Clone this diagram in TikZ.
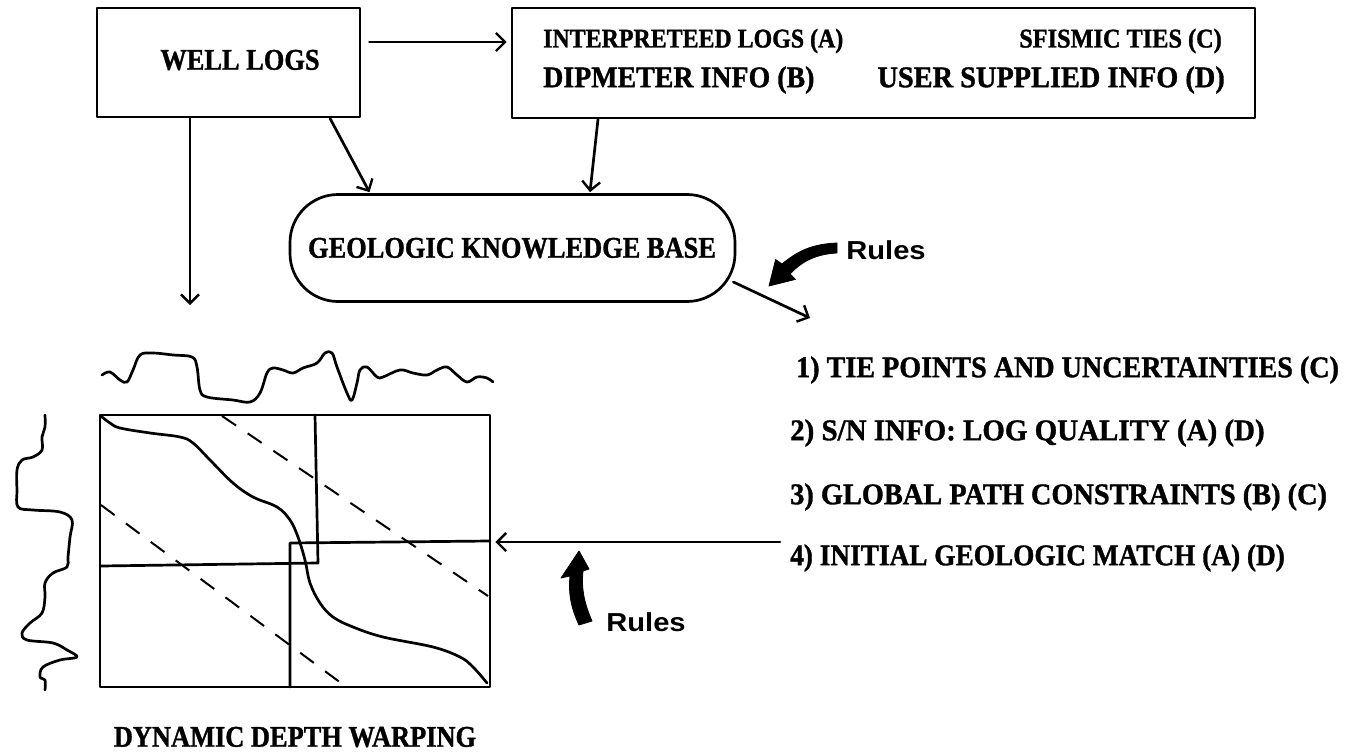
\documentclass[tikz,border=0pt]{standalone}
\usepackage{graphicx}
\usepackage{fontspec}
\setmainfont{Liberation Serif}[BoldFeatures={FakeBold=1.2}]
\newfontfamily\rulesfont{Liberation Sans}[FakeStretch=1.12]
\usetikzlibrary{arrows.meta,calc}
\newcommand{\hx}[2]{\scalebox{#1}[1]{#2}}
\tikzset{
  ln/.style={line width=2.7pt, line cap=round, line join=round},
  arr/.style={ln, -{Straight Barb[length=9pt,width=18pt,line width=2.4pt]}},
  big/.style={font=\fontsize{30}{36}\selectfont\bfseries, inner sep=0pt},
  small/.style={font=\fontsize{27}{32}\selectfont\bfseries, inner sep=0pt},
  rulestxt/.style={font=\rulesfont\fontsize{26}{30}\selectfont\bfseries, inner sep=0pt},
  fatarrow/.style={fill=black, draw=black, line width=0.8pt, line join=round},
  dsh/.style={line width=2pt, dash pattern=on 17pt off 14pt},
  wig/.style={line width=2.7pt, line cap=round, line join=round}
}
\begin{document}
\begin{tikzpicture}[x=1pt,y=-1pt]
\useasboundingbox (0,0) rectangle (1350,752);

% boxes
\node[ln, draw, minimum width=263pt, minimum height=109pt, inner sep=0pt] (wl) at (228.5,62.5) {};
\node[big] (wltxt) at (240,60) {\hx{0.88}{WELL LOGS}};

\node[ln, draw, minimum width=743pt, minimum height=110pt, inner sep=0pt] (info) at (883.5,63) {};
\node[small, anchor=west] (t1) at (543,41) {\hx{0.885}{INTERPRETEED LOGS (A)}};
\node[small, anchor=east] (t2) at (1222,41) {\hx{0.9}{SFISMIC TIES (C)}};
\node[big, anchor=west] (t3) at (543,80) {\hx{0.93}{DIPMETER INFO (B)}};
\node[big, anchor=east] (t4) at (1225,80) {\hx{0.945}{USER SUPPLIED INFO (D)}};

\node[ln, draw, rounded corners=48pt, minimum width=445pt, minimum height=107pt, inner sep=0pt] (kb) at (512.5,248) {};
\node[big] (kbtxt) at (512,248) {\hx{0.88}{GEOLOGIC KNOWLEDGE BASE}};

% connectors
\draw[arr] ($(wl.east)+(8,-20.5)$) -- ($(info.west)+(-4,-21)$);
\draw[arr] ($(wl.south)+(101.5,0)$) -- ($(kb.north)+(-143,-1)$);
\draw[arr] ($(info.south)+(-285.5,0)$) -- ($(kb.north)+(77.5,-1)$);
\coordinate (wlend) at (190,305);
\draw[arr] ($(wl.south)+(-38.5,0)$) -- (wlend);
\coordinate (kbout) at (810,318);
\draw[arr] ($(kb.east)+(-3,34)$) -- (kbout);

% Rules arrows
\node[rulestxt] (rules1) at (886,250) {Rules};
\fill[fatarrow] (775.6,259.6) -- (782,264) .. controls (800,249) and (815,244) .. (837,243)
  -- (837,253) .. controls (818,254) and (803,260) .. (790,274) -- (795.4,279.4) -- (769,286) -- cycle;
\node[rulestxt] (rules2) at (646,622) {Rules};
\fill[fatarrow] (579,551) -- (589,569) -- (583,571) .. controls (581,590) and (585,605) .. (592,621)
  -- (579,625) .. controls (572,610) and (568,595) .. (570,576) -- (561,578) -- cycle;

% list
\node[big, anchor=west] (l1) at (796,370) {\hx{0.937}{1) TIE POINTS AND UNCERTAINTIES (C)}};
\node[big, anchor=west] (l2) at (790,433) {\hx{0.965}{2) S/N INFO: LOG QUALITY (A) (D)}};
\node[big, anchor=west] (l3) at (790,497) {\hx{0.945}{3) GLOBAL PATH CONSTRAINTS (B) (C)}};
\node[big, anchor=west] (l4) at (790,558) {\hx{0.91}{4) INITIAL GEOLOGIC MATCH (A) (D)}};

% DTW matrix
\node[ln, draw, minimum width=390pt, minimum height=272pt, inner sep=0pt] (dtw) at (295,551) {};
\node[big] (dtwtxt) at (295,737) {\hx{0.88}{DYNAMIC DEPTH WARPING}};

\coordinate (listin) at (780,542);
\draw[arr] (listin) -- ($(dtw.east)+(4,-9)$);

\draw[ln] (315,415) -- (318,563) -- (101,566);
\draw[ln] (290,687) -- (290,543) -- (490,541);

\draw[dsh] (222,416) -- (488,596);
\draw[dsh] (101,505) -- (345,686);

\draw[wig] plot[smooth, tension=0.6] coordinates {
 (102,417) (110,423) (120,428) (150,433) (180,437) (193,443) (210,460)
 (233,483) (253,497) (277,507) (290,520) (298,537) (305,560) (310,583)
 (320,603) (333,617) (353,627) (383,637) (433,647) (460,657) (473,667) (487,683)};

% top log trace
\draw[wig] plot[smooth, tension=0.6] coordinates {
 (102,375) (110,372) (120,380) (127,382) (133,370) (140,355) (153,353)
 (173,355) (192,357) (197,367) (200,390) (207,397) (233,400) (250,402)
 (260,393) (267,373) (273,368) (283,370) (293,373) (303,368) (317,363)
 (325,353) (332,353) (337,367) (347,393) (352,400) (357,383) (360,370)
 (367,367) (377,377) (383,377) (400,370) (413,373) (427,375) (437,370)
 (447,367) (457,375) (467,382) (477,377) (487,378) (493,382)};

% left log trace
\draw[wig] plot[smooth, tension=0.6] coordinates {
 (45,415) (45,427) (42,437) (42,450) (33,457) (22,460) (17,470) (17,490)
 (18,507) (33,510) (60,512) (72,520) (70,537) (68,557) (67,567) (53,573)
 (45,583) (45,597) (42,613) (30,623) (22,633) (27,640) (53,643) (67,650)
 (77,657) (60,660) (43,667) (40,677) (45,680) (45,690)};
\end{tikzpicture}
\end{document}
